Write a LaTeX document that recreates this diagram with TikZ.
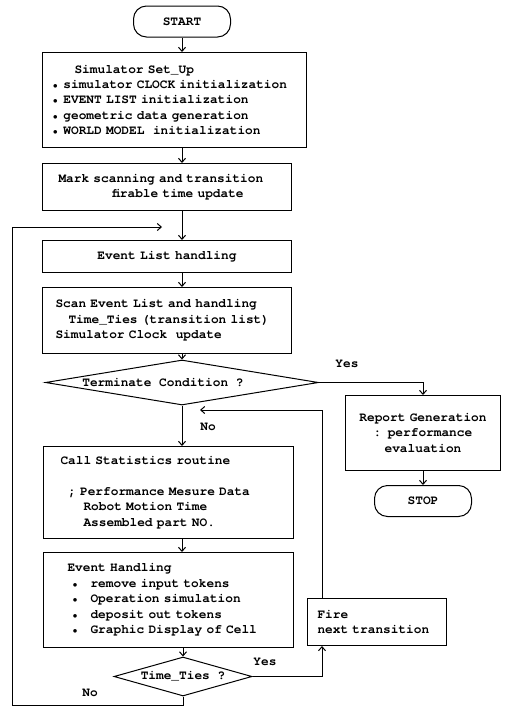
\documentclass[tikz,border=0pt]{standalone}
\usepackage{fontspec}
\setmonofont{texgyrecursor}[Extension=.otf,UprightFont=*-regular,BoldFont=*-bold]
\usetikzlibrary{arrows.meta,positioning,shapes.geometric}
\newcommand{\chsp}[1]{\hspace*{\dimexpr #1em*6/10\relax}}
\newcommand{\bul}{\makebox[7.68pt]{\fontsize{10}{10}\selectfont\textbullet}}

\begin{document}
\begin{tikzpicture}[
  x=1pt, y=-1pt,
  font=\ttfamily\bfseries\fontsize{12.8}{15.4}\selectfont,
  line width=1pt, >={Straight Barb[length=4pt,width=7pt]},
  box/.style={draw,align=left,anchor=north west,inner ysep=0pt},
  term/.style={draw,rounded corners=13pt,minimum width=97pt,minimum height=31pt,inner sep=0pt},
  cond/.style={draw,diamond,aspect=5,inner sep=0pt},
  lbl/.style={inner sep=0pt}
]
\useasboundingbox (0,0) rectangle (504,707);

\node[term] (start) at (182,21.5) {START};
\node[box,inner xsep=9pt,text width=246pt,minimum height=95pt] (setup) at (42,52)
  {\chsp{3}Simulator Set\_Up\\
   \bul~simulator CLOCK initialization\\
   \bul~EVENT LIST initialization\\
   \bul~geometric data generation\\
   \bul~WORLD MODEL~~initialization};
\node[box,inner xsep=16pt,text width=217pt,minimum height=47pt] (mark) at (42,163)
  {Mark scanning and transition\\ \chsp{7}firable time update};
\node[box,align=center,inner xsep=8pt,text width=233pt,minimum height=32pt] (evlist) at (42,240)
  {Event List handling};
\node[box,inner xsep=13pt,text width=223pt,minimum height=66pt] (scan) at (42,287)
  {Scan Event List and handling\\ \chsp{1.7}Time\_Ties (transition list)\\ Simulator Clock~~update};
\node[cond,minimum width=273pt,minimum height=45pt] (term) at (182,382.5)
  {\hspace*{-38pt}Terminate Condition ?};
\node[box,inner xsep=17pt,text width=216pt,minimum height=92pt] (call) at (43,446)
  {Call Statistics routine\\ \mbox{}\\
   \chsp{1}; Performance Mesure Data\\
   \chsp{3}Robot Motion Time\\
   \chsp{3}Assembled part NO.};
\node[box,inner xsep=24pt,text width=202pt,minimum height=95pt] (eh) at (43,552)
  {Event Handling\\
   \chsp{0.5}\bul\chsp{1.5}remove input tokens\\
   \chsp{0.5}\bul\chsp{1.5}Operation simulation\\
   \chsp{0.5}\bul\chsp{1.5}deposit out tokens\\
   \chsp{0.5}\bul\chsp{1.5}Graphic Display of Cell};
\node[cond,minimum width=138pt,minimum height=39pt] (ties) at (183,676.5) {Time\_Ties ?};

% right column
\node[box,align=center,inner xsep=8pt,text width=139pt,minimum height=75pt] (report) at (345,395)
  {Report Generation\\ : performance\\ evaluation};
\node[term,below=14pt of report] (stop) {STOP};
\node[box,inner xsep=10pt,text width=119pt,minimum height=47pt] (fire) at (307,598)
  {Fire\\ next transition};

\coordinate (loopin) at (162,227);
\coordinate (retin) at (200,410);
\coordinate (loopbot) at (12,705);

\draw[->] (start) -- (start |- setup.north);
\draw[->] (start |- setup.south) -- (start |- mark.north);
\draw[->] (start |- mark.south) -- (start |- evlist.north);
\draw[->] (start |- evlist.south) -- (start |- scan.north);
\draw[->] (start |- scan.south) -- (term.north);
\draw[->] (term.south) -- (term.south |- call.north);
\draw[->] (term.south |- call.south) -- (term.south |- eh.north);
\draw[->] (ties.north |- eh.south) -- (ties.north);
\draw[->] (term.east) -| (report.north);
\draw[->] (report) -- (stop);
\draw[->] (ties.east) -| ([xshift=15pt]fire.south west);
\draw[->] ([xshift=15pt]fire.north west) |- (retin);
\draw[->] (ties.south) -- (ties.south |- loopbot) -- (loopbot) |- (loopin);

\node[lbl] (yesterm) at (347,364) {Yes};
\node[lbl] (noterm) at (208,427) {No};
\node[lbl] (yesties) at (265,662) {Yes};
\node[lbl] (noties) at (90,693) {No};
\end{tikzpicture}
\end{document}
